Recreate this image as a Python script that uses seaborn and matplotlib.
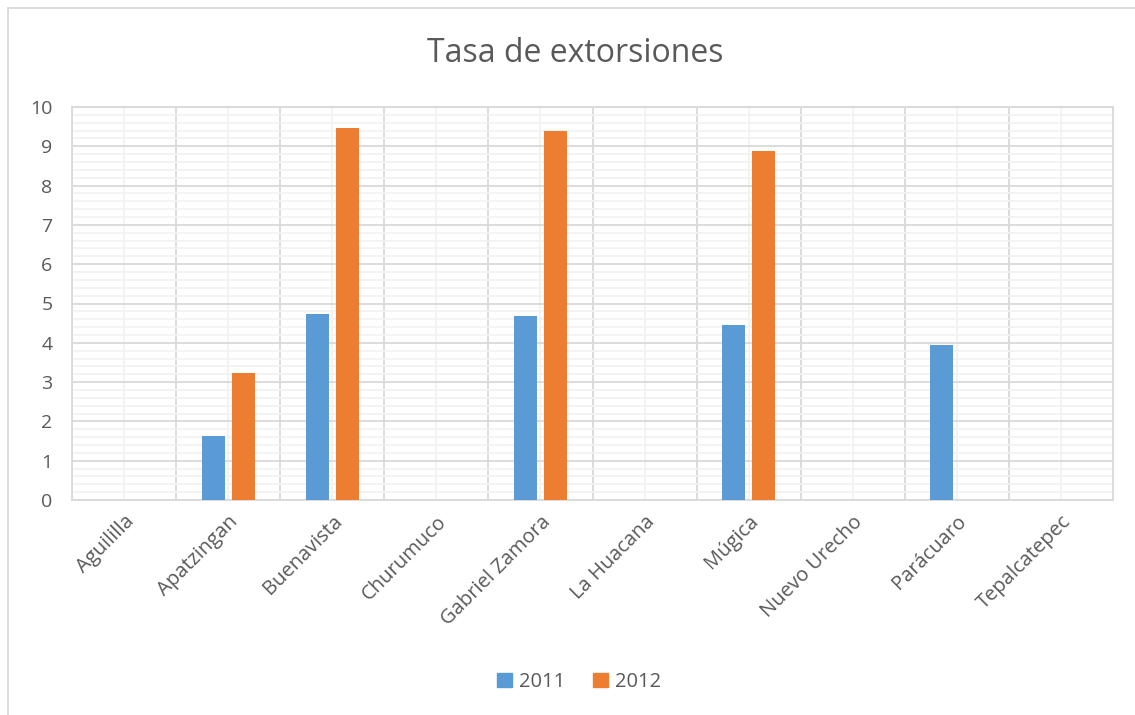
import matplotlib
matplotlib.use("Agg")
import matplotlib.pyplot as plt
import seaborn as sns
import pandas as pd
import numpy as np
from matplotlib.patches import Rectangle
from matplotlib.ticker import MultipleLocator

municipios = ["Aguililla", "Apatzingan", "Buenavista", "Churumuco", "Gabriel Zamora",
              "La Huacana", "Múgica", "Nuevo Urecho", "Parácuaro", "Tepalcatepec"]
tasa_2011 = [0, 1.63, 4.74, 0, 4.69, 0, 4.45, 0, 3.95, 0]
tasa_2012 = [0, 3.23, 9.47, 0, 9.39, 0, 8.89, 0, 0, 0]
anios = ["2011", "2012"]
colores = ["#5b9bd5", "#ed7d31"]

df = pd.DataFrame({
    "Municipio": municipios * 2,
    "Año": [anios[0]] * len(municipios) + [anios[1]] * len(municipios),
    "Tasa": tasa_2011 + tasa_2012,
})

sns.set_theme(style="white")
plt.rcParams["font.family"] = ["Open Sans", "DejaVu Sans"]
texto = "#595959"

fig = plt.figure(figsize=(11.35, 7.15), dpi=100)
ax = fig.add_axes([72 / 1135, 1 - 500 / 715, (1113 - 72) / 1135, (500 - 107) / 715])

sns.barplot(data=df, x="Municipio", y="Tasa", hue="Año", palette=colores,
            saturation=1, width=0.58, gap=0.24, linewidth=0, ax=ax,
            legend=False, zorder=3)

ax.set_xlim(-0.5, len(municipios) - 0.5)
ax.set_ylim(0, 10)
ax.yaxis.set_major_locator(MultipleLocator(1))
ax.yaxis.set_minor_locator(MultipleLocator(0.2))
ax.set_xticks(np.arange(len(municipios)) - 0.5, minor=False)
ax.set_xticks(np.arange(len(municipios)), minor=True)

# grid: major at category boundaries / integer values, minor in between
ax.grid(which="major", color="#d9d9d9", linewidth=1.3, zorder=0)
ax.grid(which="minor", color="#f2f2f2", linewidth=1.3, zorder=0)
ax.set_axisbelow(True)

ax.set_xticklabels([])
ax.tick_params(axis="x", which="both", length=0)
ax.tick_params(axis="y", which="both", length=0, labelsize=14, labelcolor=texto, pad=14)
for i, nombre in enumerate(municipios):
    ax.text(i, -0.3, nombre, rotation=45, ha="right", va="top", rotation_mode="anchor",
            fontsize=14.5, color=texto, transform=ax.transData)

for lado in ["top", "right", "bottom", "left"]:
    ax.spines[lado].set_visible(True)
    ax.spines[lado].set_color("#d9d9d9")
    ax.spines[lado].set_linewidth(1.3)

ax.set_xlabel("")
ax.set_ylabel("")

fig.text(575 / 1135, 1 - 54 / 715, "Tasa de extorsiones", ha="center", va="center",
         fontsize=23, color=texto)

# legend
handles = [Rectangle((0, 0), 1, 1, color=c) for c in colores]
fig.legend(handles, anios, loc="center", bbox_to_anchor=(579 / 1135, 1 - 682 / 715), ncol=2,
           frameon=False, fontsize=14.5, labelcolor=texto, handlelength=0.75,
           handleheight=0.75, handletextpad=0.35, columnspacing=1.4)

# outer chart frame
fig.patches.append(Rectangle((8 / 1135, -0.1), 1.2, 1 - 8 / 715 + 0.1,
                             transform=fig.transFigure, fill=False,
                             edgecolor="#d9d9d9", linewidth=1.3))

fig.savefig("out.png", dpi=100, facecolor="white")
